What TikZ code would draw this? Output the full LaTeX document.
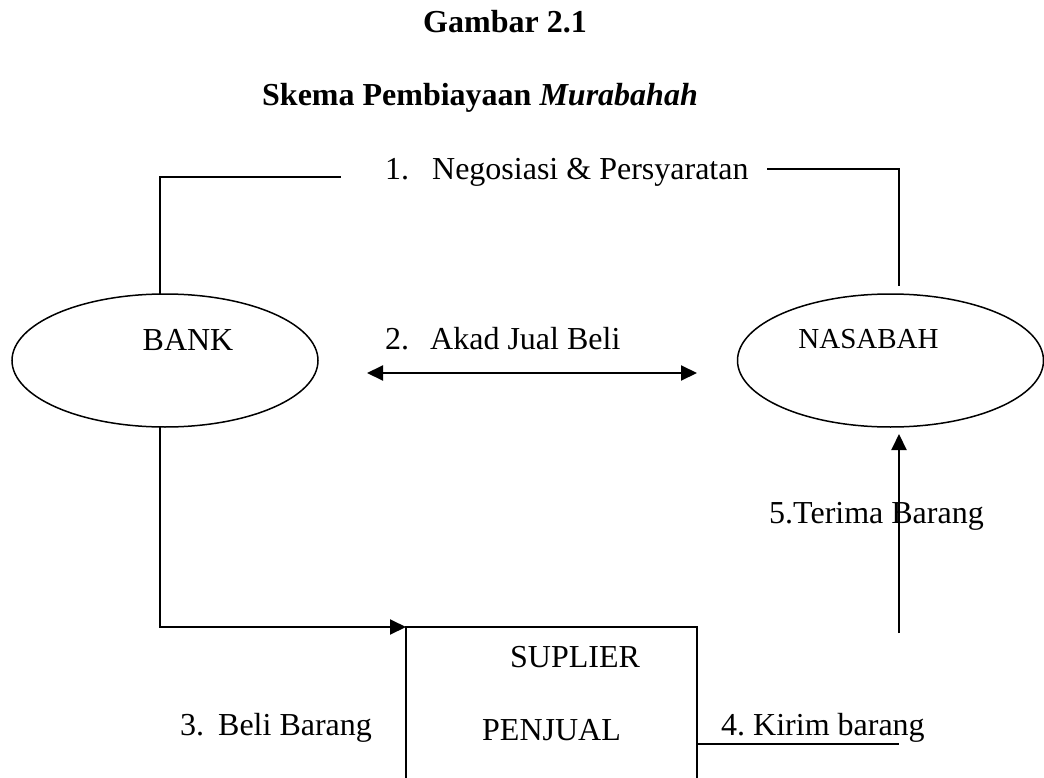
\documentclass[tikz,border=0pt]{standalone}
\usepackage{fontspec}
\setmainfont{Liberation Serif}
\usetikzlibrary{shapes.geometric,arrows.meta}
\begin{document}
\begin{tikzpicture}[x=1pt,y=-1pt,
  lbl/.style={font=\fontsize{32}{38}\selectfont, inner sep=0pt, anchor=base west},
  ttl/.style={font=\fontsize{32}{38}\selectfont\bfseries, inner sep=0pt, anchor=base},
  oval/.style={draw, ellipse, line width=1.5pt, inner sep=0pt, outer sep=0pt, minimum width=306pt, minimum height=133pt},
  conn/.style={line width=2pt},
  tip/.style={-{Triangle[length=16pt,width=15pt]}},
  dtip/.style={{Triangle[length=16pt,width=15pt]}-{Triangle[length=16pt,width=15pt]}}
]
\useasboundingbox (0,0) rectangle (1044,778);
\clip (0,0) rectangle (1044,778);
\fill[white] (0,0) rectangle (1044,778);

% titles
\node[ttl] (t1) at (505,33) {Gambar 2.1};
\node[ttl] (t2) at (480,106) {Skema Pembiayaan \textit{Murabahah}};

% nodes
\node[oval] (bank) at (165,360.5) {};
\node[oval] (nasabah) at (890.5,360.5) {};
\node[lbl, anchor=base] (banktxt) at (188,350) {BANK};
\node[lbl, anchor=base, font=\fontsize{29}{34}\selectfont] (nastxt) at (868.5,348) {NASABAH};
\node[draw, rectangle, line width=1.5pt, inner sep=0pt, outer sep=0pt, anchor=north west,
      minimum width=291pt, minimum height=200pt] (box) at (406,627) {};
\node[lbl, anchor=base] (suptxt) at (575,667) {SUPLIER};
\node[lbl, anchor=base] (penjtxt) at (551.5,740) {PENJUAL};

% labels
\node[lbl] (l1) at (385,180) {1.\hspace{23pt}Negosiasi \& Persyaratan};
\node[lbl] (l2) at (385,349) {2.\hspace{21pt}Akad Jual Beli};
\node[lbl] (l3) at (180,735) {3.\hspace{14pt}Beli Barang};
\node[lbl] (l4) at (721,735) {4.\hspace{8pt}Kirim barang};
\node[lbl] (l5) at (769,523) {5.Terima Barang};

% coordinates
\coordinate (c1) at (341,177);
\coordinate (c2) at (767,169);
\coordinate (c3) at (899,286);
\coordinate (a1) at (367,373);
\coordinate (a2) at (697,373);
\coordinate (k1) at (697,744);
\coordinate (k2) at (899,744);
\coordinate (v1) at (899,633);
\coordinate (v2) at (899,434);

% connectors
\draw[conn] ([xshift=-5pt]bank.north) |- (c1);
\draw[conn] (c2) -| (c3);
\draw[conn,dtip] (a1) -- (a2);
\draw[conn,tip] ([xshift=-5pt]bank.south) |- (box.north west);
\draw[conn] (k1) -- (k2);
\draw[conn,tip] (v1) -- (v2);
\end{tikzpicture}
\end{document}
